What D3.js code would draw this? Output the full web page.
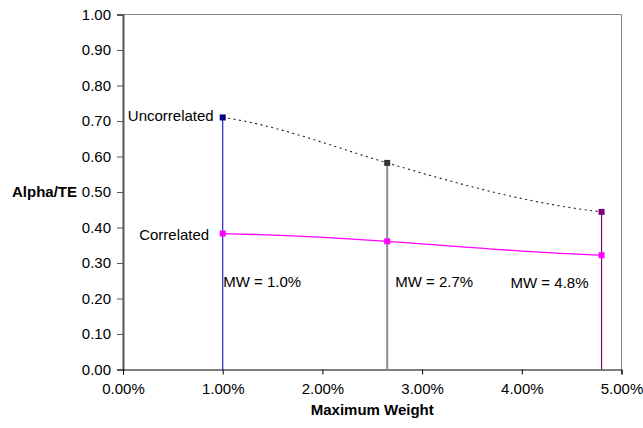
<!DOCTYPE html>
<html>
<head>
<meta charset="utf-8">
<script src="https://cdn.jsdelivr.net/npm/d3@7"></script>
<style>
  html, body { margin: 0; padding: 0; background: #fff; }
  svg { display: block; font-family: "Liberation Sans", Arial, sans-serif; }
</style>
</head>
<body>
<svg id="chart" width="643" height="428"></svg>
<script>
// Maximum weight (%) for each portfolio
const weights = [1.0, 2.65, 4.8];
// Alpha / tracking error ratios
const uncorrelated = [0.710, 0.582, 0.444];
const correlated = [0.383, 0.361, 0.322];
// Per-weight labels and colours of the drop lines / markers
const mwLabels = ["MW = 1.0%", "MW = 2.7%", "MW = 4.8%"];
const dropColors = ["#2222cc", "#8c8c8c", "#800080"];
const uncorrMarkerColors = ["#000080", "#333333", "#800080"];
// Axis ticks
const xTicks = [0, 1, 2, 3, 4, 5];
const yTicks = [0, 0.1, 0.2, 0.3, 0.4, 0.5, 0.6, 0.7, 0.8, 0.9, 1.0];

const svg = d3.select("#chart");
const W = 643, H = 428;
const m = { left: 123, right: 21.5, top: 14.5, bottom: 58.5 };

const x = d3.scaleLinear().domain([0, 5]).range([m.left, W - m.right]);
const y = d3.scaleLinear().domain([0, 1]).range([H - m.bottom, m.top]);

// Smoothed line: cubic Hermite segments, softened end tangents
function smoothCurve(context) {
  let pts = [];
  return {
    areaStart() {}, areaEnd() {},
    lineStart() { pts = []; },
    point(px, py) { pts.push([+px, +py]); },
    lineEnd() {
      const n = pts.length;
      if (!n) return;
      context.moveTo(pts[0][0], pts[0][1]);
      if (n === 1) return;
      const slope = (a, b) => (b[1] - a[1]) / (b[0] - a[0]);
      const t = pts.map((p, i) => {
        if (i === 0) return 0.5 * slope(pts[0], pts[1]);
        if (i === n - 1) return 0.5 * slope(pts[n - 2], pts[n - 1]);
        return 1.2 * slope(pts[i - 1], pts[i + 1]);
      });
      for (let i = 0; i < n - 1; i++) {
        const [x0, y0] = pts[i], [x1, y1] = pts[i + 1];
        const h = (x1 - x0) / 3;
        context.bezierCurveTo(x0 + h, y0 + t[i] * h, x1 - h, y1 - t[i + 1] * h, x1, y1);
      }
    }
  };
}

// Plot frame (top and right edges)
svg.append("path")
  .attr("d", `M${x(0)},${y(1)}H${x(5)}V${y(0)}`)
  .attr("fill", "none").attr("stroke", "#8a8a8a").attr("stroke-width", 1);

// Y axis
const yAxis = svg.append("g")
  .attr("transform", `translate(${x(0)},0)`)
  .call(d3.axisLeft(y).tickValues(yTicks).tickFormat(d3.format(".2f")).tickSizeOuter(0).tickSize(6).tickPadding(6));
yAxis.select(".domain").attr("stroke", "#555").attr("stroke-width", 2);
yAxis.selectAll(".tick line").attr("stroke", "#555");
yAxis.selectAll(".tick text").attr("font-size", 15).attr("fill", "#000")
  .attr("font-family", "Liberation Sans, Arial, sans-serif");

// X axis
const xAxis = svg.append("g")
  .attr("transform", `translate(0,${y(0)})`)
  .call(d3.axisBottom(x).tickValues(xTicks).tickFormat(d => d3.format(".2f")(d) + "%").tickSizeOuter(0).tickSize(5).tickPadding(9));
xAxis.select(".domain").attr("stroke", "#000");
xAxis.selectAll(".tick line").attr("stroke", "#000");
xAxis.selectAll(".tick text").attr("font-size", 15).attr("fill", "#000")
  .attr("font-family", "Liberation Sans, Arial, sans-serif");

// Axis titles
svg.append("text").attr("x", 12).attr("y", 197)
  .attr("font-size", 15).attr("font-weight", "bold").text("Alpha/TE");
svg.append("text").attr("x", (x(0) + x(5)) / 2).attr("y", 415)
  .attr("text-anchor", "middle").attr("font-size", 15).attr("font-weight", "bold")
  .text("Maximum Weight");

// Drop lines from each uncorrelated point to the axis
svg.append("g").selectAll("line").data(weights).join("line")
  .attr("x1", d => x(d)).attr("x2", d => x(d))
  .attr("y1", (d, i) => y(uncorrelated[i])).attr("y2", y(0))
  .attr("stroke", (d, i) => dropColors[i])
  .attr("stroke-width", (d, i) => i === 1 ? 2 : 1.2);

const line = d3.line().x(d => x(d[0])).y(d => y(d[1])).curve(smoothCurve);

// Uncorrelated (dotted) and correlated (magenta) series
svg.append("path")
  .attr("d", line(d3.zip(weights, uncorrelated)))
  .attr("fill", "none").attr("stroke", "#222").attr("stroke-width", 1.1)
  .attr("stroke-dasharray", "2,3.5");
svg.append("path")
  .attr("d", line(d3.zip(weights, correlated)))
  .attr("fill", "none").attr("stroke", "#ff00ff").attr("stroke-width", 1.3);

// Markers
const ms = 6;
svg.append("g").selectAll("rect").data(weights).join("rect")
  .attr("x", d => x(d) - ms / 2).attr("y", (d, i) => y(uncorrelated[i]) - ms / 2)
  .attr("width", ms).attr("height", ms)
  .attr("fill", (d, i) => uncorrMarkerColors[i]);
svg.append("g").selectAll("rect").data(weights).join("rect")
  .attr("x", d => x(d) - ms / 2).attr("y", (d, i) => y(correlated[i]) - ms / 2)
  .attr("width", ms).attr("height", ms)
  .attr("fill", "#ff00ff");

// Series labels
svg.append("text").attr("x", x(weights[0]) - 9).attr("y", y(uncorrelated[0]) + 4)
  .attr("text-anchor", "end").attr("font-size", 15).text("Uncorrelated");
svg.append("text").attr("x", x(weights[0]) - 13.5).attr("y", y(correlated[0]) + 6)
  .attr("text-anchor", "end").attr("font-size", 15).text("Correlated");

// Maximum-weight labels
const mwOffsets = [0.5, 8, -91];
svg.append("g").selectAll("text").data(weights).join("text")
  .attr("x", (d, i) => x(d) + mwOffsets[i])
  .attr("y", (d, i) => i === 2 ? 288 : 287)
  .attr("font-size", 15)
  .text((d, i) => mwLabels[i]);
</script>
</body>
</html>
